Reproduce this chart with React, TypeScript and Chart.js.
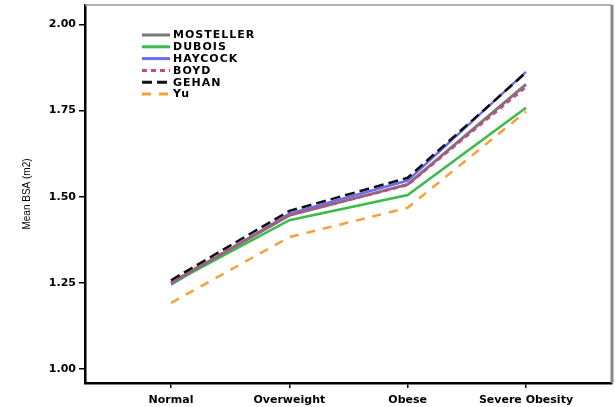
import React, { useEffect, useRef } from "react";
import { Chart, registerables } from "chart.js";

Chart.register(...registerables);

const categories = ["Normal", "Overweight", "Obese", "Severe Obesity"];
const mosteller = [1.25, 1.446, 1.536, 1.826];
const dubois = [1.248, 1.432, 1.505, 1.758];
const haycock = [1.245, 1.451, 1.547, 1.862];
const boyd = [1.252, 1.447, 1.534, 1.818];
const gehan = [1.258, 1.459, 1.555, 1.86];
const yu = [1.192, 1.383, 1.468, 1.747];
const yTicks = [1.0, 1.25, 1.5, 1.75, 2.0];

const toPoints = (arr: number[]) => arr.map((v, i) => ({ x: i, y: v }));

const legendPlugin = {
  id: "customLegend",
  afterDraw(chart: any) {
    const ctx = chart.ctx;
    const area = chart.chartArea;
    ctx.save();
    // frame top/right
    ctx.strokeStyle = "#999999";
    ctx.lineWidth = 1.5;
    ctx.beginPath();
    ctx.moveTo(area.left, area.top);
    ctx.lineTo(area.right, area.top);
    ctx.stroke();
    ctx.strokeStyle = "#888888";
    ctx.lineWidth = 3;
    ctx.beginPath();
    ctx.moveTo(area.right, area.top);
    ctx.lineTo(area.right, area.bottom);
    ctx.stroke();
    // legend
    const x0 = area.left + 57;
    let y = area.top + 30;
    chart.data.datasets.forEach((ds: any) => {
      ctx.strokeStyle = ds.borderColor;
      ctx.lineWidth = 3;
      ctx.setLineDash(ds.borderDash || []);
      ctx.beginPath();
      ctx.moveTo(x0, y);
      ctx.lineTo(x0 + 28, y);
      ctx.stroke();
      ctx.setLineDash([]);
      ctx.fillStyle = "#000000";
      ctx.font = 'bold 11px "DejaVu Sans"';
      ctx.letterSpacing = "1px";
      ctx.textBaseline = "middle";
      ctx.textAlign = "left";
      ctx.fillText(ds.label, x0 + 31, y + 0.5);
      y += 11.8;
    });
    ctx.letterSpacing = "0px";
    ctx.restore();
  },
};

export default function App() {
  const ref = useRef<HTMLCanvasElement>(null);
  useEffect(() => {
    document.body.style.margin = "0";
    const chart = new Chart(ref.current!, {
      type: "line",
      data: {
        datasets: [
          { label: "MOSTELLER", data: toPoints(mosteller), borderColor: "#787878", borderWidth: 3, order: 3 },
          { label: "DUBOIS", data: toPoints(dubois), borderColor: "#3cba4a", borderWidth: 2.5, order: 4 },
          { label: "HAYCOCK", data: toPoints(haycock), borderColor: "#6b6bf2", borderWidth: 2.5, order: 5 },
          { label: "BOYD", data: toPoints(boyd), borderColor: "#c4488e", borderWidth: 2.5, borderDash: [5, 4], order: 2 },
          { label: "GEHAN", data: toPoints(gehan), borderColor: "#111111", borderWidth: 2.5, borderDash: [10, 5], order: 1 },
          { label: "Yu", data: toPoints(yu), borderColor: "#f7a035", borderWidth: 2.5, borderDash: [9, 8], order: 6 },
        ] as any,
      },
      options: {
        responsive: false,
        animation: false,
        layout: { padding: { top: 5, right: 3, left: 0, bottom: 0 } },
        elements: { point: { radius: 0 }, line: { tension: 0 } },
        plugins: { legend: { display: false }, tooltip: { enabled: false } },
        scales: {
          x: {
            type: "linear",
            min: -0.727,
            max: 3.727,
            afterBuildTicks: (s: any) => {
              s.ticks = categories.map((_, i) => ({ value: i }));
            },
            afterFit: (s: any) => {
              s.height = 24;
              s.paddingLeft = 0;
              s.paddingRight = 0;
            },
            ticks: {
              callback: (v: any) => categories[v as number] ?? "",
              color: "#000",
              font: { family: "DejaVu Sans", weight: "bold", size: 11 },
              padding: 6,
              maxRotation: 0,
              autoSkip: false,
            },
            grid: { drawOnChartArea: false, drawTicks: true, tickLength: 5, color: "#000", lineWidth: 1.5 },
            border: { color: "#000", width: 2.5 },
          },
          y: {
            min: 0.96,
            max: 2.056,
            afterBuildTicks: (s: any) => {
              s.ticks = yTicks.map((v) => ({ value: v }));
            },
            afterFit: (s: any) => {
              s.width = 85;
              s.paddingTop = 0;
              s.paddingBottom = 0;
            },
            ticks: {
              callback: (v: any) => Number(v).toFixed(2),
              color: "#000",
              font: { family: "DejaVu Sans", weight: "bold", size: 11 },
              padding: 3,
            },
            grid: { drawOnChartArea: false, drawTicks: true, tickLength: 6, color: "#000", lineWidth: 1.5 },
            border: { color: "#000", width: 2.5 },
            title: {
              display: true,
              text: "Mean BSA (m2)",
              color: "#000",
              font: { family: "Liberation Sans", size: 10 },
              padding: { top: 21, bottom: 0 },
            },
          },
        },
      },
      plugins: [legendPlugin],
    });
    return () => chart.destroy();
  }, []);
  return <canvas ref={ref} width={615} height={407} style={{ display: "block" }} />;
}
